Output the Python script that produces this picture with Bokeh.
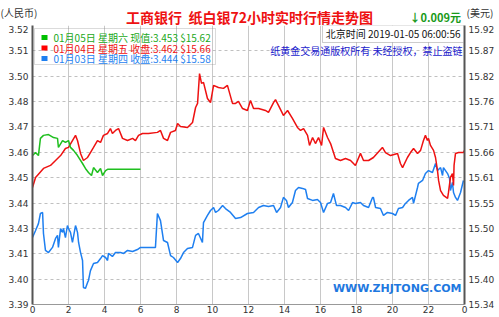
from bokeh.plotting import figure
from bokeh.layouts import column
from bokeh.models import Label, BoxAnnotation, LinearAxis, FixedTicker, Range1d
from bokeh.embed import file_html
from bokeh.resources import INLINE

# ---------------- data ----------------
# 01-05 (Sat) current
hours_g = [0, 0.17, 0.33, 0.44, 0.61, 0.89, 1.17, 1.39, 1.44, 1.67, 1.83, 2.0, 2.11, 2.28,
           2.5, 2.78, 2.94, 3.11, 3.28, 3.39, 3.61, 3.78, 3.89, 4.06, 4.17, 6.0]
price_g = [3.4594, 3.4608, 3.4594, 3.4674, 3.4688, 3.4692, 3.4678, 3.4674, 3.4632, 3.4664,
           3.4655, 3.4664, 3.4632, 3.4618, 3.4594, 3.4557, 3.4534, 3.4515, 3.4501, 3.4538,
           3.4515, 3.4534, 3.4501, 3.4524, 3.4530, 3.4530]

# 01-04 (Fri) close
hours_r = [0, 0.17, 0.61, 1.0, 1.28, 1.56, 1.83, 2.0, 2.22, 2.39, 2.5, 2.67, 2.83, 3.06, 3.22,
           3.39, 3.61, 3.78, 3.94, 4.17, 4.33, 4.44, 4.61, 4.78, 5.0, 5.28, 5.56, 5.72, 5.89,
           6.11, 6.44, 6.94, 7.11, 7.28, 7.5, 7.67, 7.94, 8.06, 8.22, 8.61, 8.89, 9.06, 9.17,
           9.28, 9.39, 9.5, 9.72, 9.89, 10.06, 10.33, 10.61, 10.83, 11.11, 11.28, 11.44, 11.67,
           11.94, 12.11, 12.28, 12.56, 12.94, 13.11, 13.39, 13.5, 13.67, 13.94, 14.17, 14.44,
           14.72, 14.89, 15.06, 15.28, 15.39, 15.56, 15.72, 15.89, 16.06, 16.17, 16.39, 16.56,
           16.83, 17.11, 17.39, 17.67, 17.94, 18.22, 18.39, 18.67, 18.94, 19.44, 19.61, 19.89,
           20.28, 20.44, 20.56, 20.83, 21.0, 21.17, 21.39, 21.56, 21.72, 21.83, 21.94, 22.0,
           22.11, 22.28, 22.39, 22.5, 22.56, 22.67, 22.83, 23.06, 23.11, 23.22, 23.33, 23.39,
           23.42, 23.5, 23.67, 23.94, 24.0]
price_r = [3.4445, 3.4492, 3.4534, 3.4548, 3.4571, 3.4594, 3.4627, 3.4632, 3.4664, 3.4688,
           3.4664, 3.4604, 3.4571, 3.4585, 3.4608, 3.4632, 3.4664, 3.4655, 3.4688, 3.4697,
           3.4720, 3.4697, 3.4711, 3.4720, 3.4674, 3.4664, 3.4674, 3.4664, 3.4688, 3.4697,
           3.4697, 3.4702, 3.4711, 3.4674, 3.4664, 3.4702, 3.4711, 3.4743, 3.4729, 3.4725,
           3.4748, 3.4818, 3.4837, 3.4976, 3.4930, 3.4935, 3.4860, 3.4841, 3.4921, 3.4911,
           3.4907, 3.4921, 3.4837, 3.4837, 3.4846, 3.4813, 3.4804, 3.4851, 3.4813, 3.4813,
           3.4804, 3.4795, 3.4841, 3.4855, 3.4827, 3.4781, 3.4804, 3.4767, 3.4725, 3.4711,
           3.4720, 3.4688, 3.4641, 3.4678, 3.4650, 3.4678, 3.4641, 3.4725, 3.4678, 3.4650,
           3.4580, 3.4571, 3.4580, 3.4571, 3.4548, 3.4604, 3.4571, 3.4571, 3.4585, 3.4632,
           3.4608, 3.4594, 3.4604, 3.4557, 3.4538, 3.4585, 3.4608, 3.4627, 3.4604, 3.4618,
           3.4664, 3.4688, 3.4664, 3.4674, 3.4641, 3.4618, 3.4585, 3.4524, 3.4478, 3.4431,
           3.4408, 3.4394, 3.4422, 3.4492, 3.4510, 3.4455, 3.4548, 3.4604, 3.4608, 3.4608,
           3.4618]

# 01-03 (Thu) close
hours_b = [0, 0.17, 0.33, 0.44, 0.56, 0.61, 0.72, 0.89, 1.11, 1.28, 1.39, 1.44, 1.56, 1.67,
           1.72, 1.83, 1.94, 2.0, 2.11, 2.22, 2.39, 2.5, 2.56, 2.67, 2.78, 2.83, 2.94, 3.06,
           3.11, 3.22, 3.39, 3.61, 3.78, 3.89, 4.06, 4.17, 4.22, 4.44, 4.61, 4.89, 5.06, 5.28,
           5.56, 5.83, 6.0, 6.83, 6.94, 7.11, 7.28, 7.5, 7.67, 7.83, 8.06, 8.22, 8.39, 8.61,
           8.89, 9.06, 9.22, 9.44, 9.5, 9.72, 9.89, 10.06, 10.17, 10.33, 10.56, 10.72, 11.0,
           11.28, 11.56, 11.94, 12.28, 12.56, 12.83, 13.11, 13.39, 13.56, 13.78, 13.94, 14.11,
           14.22, 14.44, 14.61, 14.78, 15.0, 15.17, 15.28, 15.56, 15.83, 16.0, 16.17, 16.39,
           16.56, 16.72, 16.89, 17.11, 17.39, 17.56, 17.78, 17.94, 18.22, 18.39, 18.67, 18.89,
           18.94, 19.06, 19.33, 19.5, 19.72, 20.0, 20.17, 20.33, 20.56, 20.72, 20.89, 21.11,
           21.17, 21.39, 21.44, 21.67, 21.83, 22.0, 22.22, 22.39, 22.5, 22.67, 22.78, 22.83,
           23.06, 23.17, 23.22, 23.33, 23.39, 23.5, 23.61, 23.78, 23.94]
price_b = [3.4212, 3.4245, 3.4277, 3.4324, 3.4329, 3.4231, 3.4152, 3.4142, 3.4166, 3.4208,
           3.4222, 3.4166, 3.4254, 3.4236, 3.4254, 3.4212, 3.4268, 3.4254, 3.4236, 3.4189,
           3.4268, 3.4236, 3.4189, 3.4142, 3.4105, 3.3979, 3.3975, 3.4003, 3.4012, 3.4058,
           3.4091, 3.4096, 3.4114, 3.4128, 3.4119, 3.4105, 3.4138, 3.4124, 3.4142, 3.4142,
           3.4138, 3.4152, 3.4147, 3.4156, 3.4166, 3.4166, 3.4324, 3.4291, 3.4198, 3.4189,
           3.4128, 3.4119, 3.4096, 3.4114, 3.4142, 3.4161, 3.4166, 3.4222, 3.4231, 3.4189,
           3.4282, 3.4315, 3.4338, 3.4352, 3.4329, 3.4338, 3.4361, 3.4347, 3.4329, 3.4301,
           3.4305, 3.4324, 3.4329, 3.4352, 3.4361, 3.4357, 3.4361, 3.4329, 3.4352, 3.4399,
           3.4385, 3.4352, 3.4375, 3.4431, 3.4445, 3.4441, 3.4436, 3.4394, 3.4385, 3.4389,
           3.4375, 3.4329, 3.4371, 3.4375, 3.4417, 3.4361, 3.4361, 3.4352, 3.4338, 3.4375,
           3.4371, 3.4375, 3.4361, 3.4352, 3.4399, 3.4399, 3.4352, 3.4347, 3.4315, 3.4329,
           3.4324, 3.4315, 3.4347, 3.4352, 3.4371, 3.4385, 3.4399, 3.4371, 3.4445, 3.4464,
           3.4478, 3.4510, 3.4524, 3.4515, 3.4557, 3.4524, 3.4538, 3.4501, 3.4538, 3.4510,
           3.4487, 3.4431, 3.4469, 3.4422, 3.4399, 3.4385, 3.4422, 3.4478]

left_labels = ["3.39", "3.40", "3.41", "3.43", "3.44", "3.45", "3.46", "3.47", "3.48", "3.50", "3.51", "3.52"]
right_labels = ["15.34", "15.40", "15.45", "15.50", "15.55", "15.61", "15.66", "15.71", "15.76", "15.82", "15.87", "15.92"]
x_ticks = [0, 2, 4, 6, 8, 10, 12, 14, 16, 18, 20, 22, 24]
x_labels = ["0", "2", "4", "6", "8", "10", "12", "14", "16", "18", "20", "22", "0"]

legend_rows = [
    ("01月05日 星期六 现值:3.453 $15.62", "#1aa81a", "#00c000"),
    ("01月04日 星期五 收盘:3.462 $15.66", "#ee1111", "#ff0000"),
    ("01月03日 星期四 收盘:3.444 $15.58", "#1e7ff0", "#1e7ff0"),
]

Y_LO, Y_HI = 3.39, 3.52
yticks = [round(Y_LO + i * (Y_HI - Y_LO) / 11, 6) for i in range(12)]

CJK = "Noto Sans CJK SC"

# ---------------- header strip ----------------
h = figure(width=499, height=25, output_backend="svg", toolbar_location=None,
           x_axis_location=None, y_axis_location=None,
           min_border_left=0, min_border_right=0, min_border_top=0, min_border_bottom=0,
           outline_line_color=None, background_fill_color="white", border_fill_color="white",
           x_range=Range1d(0, 1), y_range=Range1d(0, 1))
h.frame_align = False
h.xgrid.visible = False
h.ygrid.visible = False


def hlab(text, x, y, color, size, bold=False, align="left"):
    h.add_layout(Label(x=x, y=y, x_units="screen", y_units="screen", text=text,
                       text_color=color, text_font_size=size, text_font=CJK,
                       text_font_style="bold" if bold else "normal",
                       text_align=align, text_baseline="middle"))


hlab("工商银行\u00a0\u00a0纸白银72小时实时行情走势图", 249, 9, "#ee1111", "14px", True, "center")
hlab("↓0.009元", 409, 9, "#1a9a1a", "11px", True)
hlab("(人民币)", 0, 13, "#333333", "10px")
hlab("(美元)", 466, 13, "#333333", "10px")

# ---------------- main chart ----------------
p = figure(width=499, height=292, x_range=Range1d(0, 24), y_range=Range1d(Y_LO, Y_HI),
           output_backend="svg", toolbar_location=None,
           min_border_left=32, min_border_right=35, min_border_top=0, min_border_bottom=13,
           outline_line_color=None, background_fill_color="white", border_fill_color="white")
p.frame_align = False

p.xaxis.ticker = FixedTicker(ticks=x_ticks)
p.xaxis.major_label_overrides = {float(t): l for t, l in zip(x_ticks, x_labels)}
p.yaxis.ticker = FixedTicker(ticks=yticks)
p.yaxis.major_label_overrides = {t: l for t, l in zip(yticks, left_labels)}

right = LinearAxis(ticker=FixedTicker(ticks=yticks),
                   major_label_overrides={t: l for t, l in zip(yticks, right_labels)})
p.add_layout(right, "right")

for ax in [p.xaxis[0], p.yaxis[0], right]:
    ax.major_tick_line_color = None
    ax.minor_tick_line_color = None
    ax.major_tick_out = 0
    ax.major_tick_in = 0
    ax.minor_tick_out = 0
    ax.minor_tick_in = 0
    ax.major_label_text_font = "DejaVu Sans"
    ax.major_label_text_font_size = "9px"
    ax.major_label_text_color = "#333333"
    ax.major_label_standoff = 4
p.xaxis[0].major_label_standoff = 1
p.xaxis[0].axis_line_color = "#999999"
p.yaxis[0].axis_line_color = "#555555"
p.yaxis[0].axis_line_width = 2
right.axis_line_color = "#555555"
right.axis_line_width = 2

p.ygrid.grid_line_color = "#c0c0c0"
p.ygrid.grid_line_dash = "3 3"
p.xgrid.grid_line_color = "#c8c8c8"

p.line(hours_b, price_b, line_color="#1e7ff0", line_width=1.5)
p.line(hours_r, price_r, line_color="#ee1111", line_width=1.5)
p.line(hours_g, price_g, line_color="#1fbf1f", line_width=1.5)


def lab(text, x, y, color="#000000", size="10px", bold=False, align="left", font=CJK):
    p.add_layout(Label(x=x, y=y, x_units="screen", y_units="screen", text=text,
                       text_color=color, text_font_size=size, text_font=font,
                       text_font_style="bold" if bold else "normal",
                       text_align=align, text_baseline="middle"))


def sbox(l, r, b, t, **kw):
    p.add_layout(BoxAnnotation(left=l, right=r, bottom=b, top=t,
                               left_units="screen", right_units="screen",
                               bottom_units="screen", top_units="screen", **kw))


# legend box
sbox(2, 183, 240, 276, fill_color="white", fill_alpha=0.0, line_color="#888888", line_width=1)
for i, (txt, tcol, scol) in enumerate(legend_rows):
    yc = 267 - i * 10.5
    sbox(9, 15, yc - 2.5, yc + 2.5, fill_color=scol, fill_alpha=1.0, line_color=None)
    lab(txt, 21, yc, tcol, "10px")

# time box
sbox(290, 431, 262, 279, fill_color="white", fill_alpha=1.0, line_color="#555555", line_width=1)
lab("北京时间 2019-01-05 06:00:56", 428, 271, "#111111", "10px", False, "right")
lab("纸黄金交易通版权所有 未经授权，禁止盗链", 430, 254, "#2222cc", "10px", False, "right")
lab("WWW.ZHJTONG.COM", 429, 16, "#1e78e0", "11px", True, "right", "DejaVu Sans")

layout = column(h, p, spacing=0)
open("out.html", "w").write(file_html(layout, INLINE))
